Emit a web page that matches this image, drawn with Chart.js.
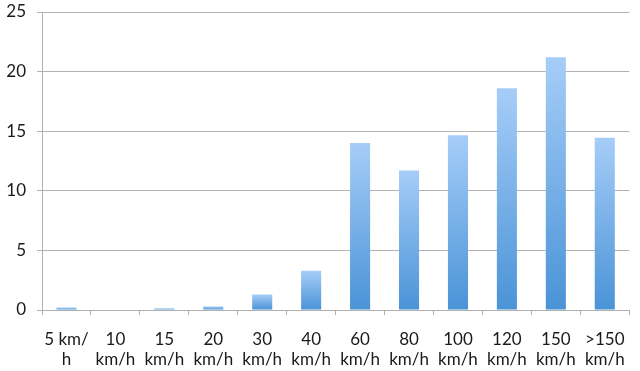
<!DOCTYPE html>
<html>
<head>
<meta charset="utf-8">
<script src="https://cdn.jsdelivr.net/npm/chart.js@4/dist/chart.umd.min.js"></script>
<style>
    html, body { margin: 0; padding: 0; background: #fff; }
    #wrap { width: 640px; height: 371px; position: relative; }
</style>
</head>
<body>
<div id="wrap"><canvas id="speedChart"></canvas></div>
<script>
const categories = [
    ['5 km/', 'h'], ['10', 'km/h'], ['15', 'km/h'], ['20', 'km/h'],
    ['30', 'km/h'], ['40', 'km/h'], ['60', 'km/h'], ['80', 'km/h'],
    ['100', 'km/h'], ['120', 'km/h'], ['150', 'km/h'], ['>150', 'km/h']
];
const shares = [0.2, 0.05, 0.15, 0.3, 1.3, 3.3, 14.0, 11.7, 14.65, 18.6, 21.2, 14.45];
const yTicks = [0, 5, 10, 15, 20, 25];

function barGradient(context) {
    const chart = context.chart;
    const area = chart.chartArea;
    if (!area) return '#7ab3ea';
    const yScale = chart.scales.y;
    const top = yScale.getPixelForValue(context.parsed ? context.parsed.y : shares[context.dataIndex]);
    const bottom = yScale.getPixelForValue(0);
    if (!isFinite(top) || Math.abs(bottom - top) < 1) return '#7ab3ea';
    const g = chart.ctx.createLinearGradient(0, top, 0, bottom);
    g.addColorStop(0, '#a6cdf8');
    g.addColorStop(1, '#4a93d7');
    return g;
}

document.addEventListener('DOMContentLoaded', function () {
    const ctx = document.getElementById('speedChart').getContext('2d');

    new Chart(ctx, {
        type: 'bar',
        data: {
            labels: categories,
            datasets: [{
                data: shares,
                backgroundColor: barGradient,
                borderWidth: 0,
                categoryPercentage: 1,
                barPercentage: 0.41
            }]
        },
        options: {
            responsive: true,
            maintainAspectRatio: false,
            animation: false,
            layout: { padding: { top: 12, right: 8, left: 0, bottom: 0 } },
            plugins: {
                legend: { display: false },
                tooltip: { enabled: false }
            },
            scales: {
                y: {
                    min: 0,
                    max: 25,
                    afterBuildTicks: function (scale) {
                        scale.ticks = yTicks.map(v => ({ value: v }));
                    },
                    afterFit: function (scale) {
                        scale.width = 42;
                        scale.paddingTop = 0;
                    },
                    border: { color: '#b0b0b0', width: 1 },
                    grid: { color: '#b3b3b3', lineWidth: 1, tickLength: 5 },
                    ticks: {
                        color: '#1a1a1a',
                        padding: 11,
                        font: { family: 'Lato', size: 17 }
                    }
                },
                x: {
                    afterFit: function (scale) { scale.height = 61; },
                    border: { color: '#b0b0b0', width: 1 },
                    grid: { color: '#b0b0b0', drawOnChartArea: false, tickLength: 5 },
                    ticks: {
                        color: '#1a1a1a',
                        maxRotation: 0,
                        autoSkip: false,
                        padding: 15,
                        font: { family: 'Lato', size: 17, lineHeight: '20px' }
                    }
                }
            }
        }
    });
});
</script>
</body>
</html>
